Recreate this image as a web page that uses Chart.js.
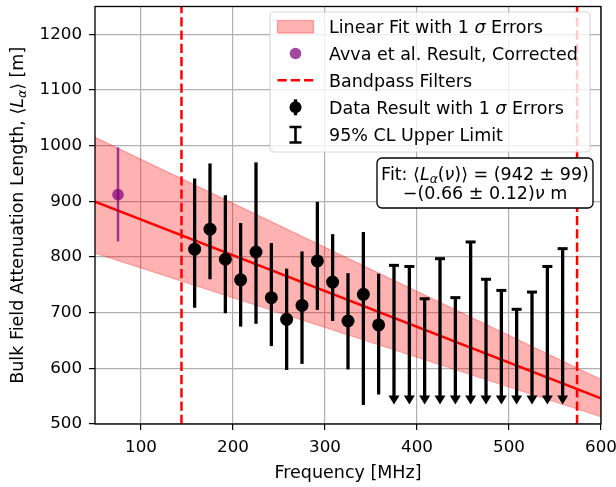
<!DOCTYPE html>
<html>
<head>
<meta charset="utf-8">
<script src="https://cdn.jsdelivr.net/npm/chart.js@4.4.1/dist/chart.umd.min.js"></script>
<style>
  html, body { margin: 0; padding: 0; background: #fff; }
</style>
</head>
<body>
<canvas id="attenChart" width="616" height="487"></canvas>
<script>
// --- data ---
const freqs   = [158.3, 175, 191.7, 208.3, 225, 241.7, 258.3, 275, 291.7, 308.3, 325, 341.7, 358.3];
const atten   = [814, 850, 796, 759, 809, 727, 688, 713, 793, 755, 685, 733, 678];
const errHigh = [941, 968, 911, 861, 970, 825, 779, 810, 899, 841, 771, 845, 770];
const errLow  = [709, 760, 699, 675, 680, 640, 597, 608, 705, 685, 598, 534, 553];

const limitFreqs  = [375, 391.7, 408.3, 425, 441.7, 458.3, 475, 491.7, 508.3, 525, 541.7, 558.3];
const limitValues = [785, 783, 725, 797, 727, 827, 760, 740, 706, 737, 783, 815];
const limitFloor  = 535;

const avvaFreq  = [75];
const avvaValue = [912];
const avvaLow   = [828];
const avvaHigh  = [997];

const fitFreq   = [50, 600];
const fitLine   = [899.5, 546];
const bandUpper = [1015, 580];
const bandLower = [807, 513];

const filterFreqs = [144, 574];

const xTicks = [100, 200, 300, 400, 500, 600];
const yTicks = [500, 600, 700, 800, 900, 1000, 1100, 1200];
const xRange = [50, 600];
const yRange = [500, 1250];

// --- style ---
const FONT = '"DejaVu Sans", sans-serif';
const FS = 17.5;      // labels, legend, annotation
const TFS = 16.7;     // tick labels
const purple = 'rgba(128, 0, 128, 0.72)';
const bandFill = 'rgba(255, 0, 0, 0.3)';

function pts(xs, ys) { return xs.map((x, i) => ({ x: x, y: ys[i] })); }

function segFont(s, size) {
    return (s.it ? 'italic ' : '') + (s.sub ? size * 0.7 : size) + 'px ' + FONT;
}
function richWidth(ctx, segs, size) {
    let w = 0;
    segs.forEach(s => { ctx.font = segFont(s, size); w += ctx.measureText(s.t).width; });
    return w;
}
function drawRich(ctx, segs, x, y, size) {
    ctx.textAlign = 'left';
    ctx.textBaseline = 'alphabetic';
    let cx = x;
    segs.forEach(s => {
        ctx.font = segFont(s, size);
        ctx.fillText(s.t, cx, y + (s.sub ? size * 0.22 : 0));
        cx += ctx.measureText(s.t).width;
    });
}
function roundRect(ctx, x, y, w, h, r) {
    ctx.beginPath();
    ctx.moveTo(x + r, y);
    ctx.arcTo(x + w, y, x + w, y + h, r);
    ctx.arcTo(x + w, y + h, x, y + h, r);
    ctx.arcTo(x, y + h, x, y, r);
    ctx.arcTo(x, y, x + w, y, r);
    ctx.closePath();
}

// error bars, upper limits, frame, legend, annotation
const extras = {
    id: 'extras',
    beforeDatasetDraw(chart, args) {
        const ctx = chart.ctx, xs = chart.scales.x, ys = chart.scales.y;
        ctx.save();
        if (args.index === 1) {
            ctx.strokeStyle = purple;
            ctx.lineWidth = 2.5;
            avvaFreq.forEach((f, i) => {
                const px = xs.getPixelForValue(f);
                ctx.beginPath();
                ctx.moveTo(px, ys.getPixelForValue(avvaLow[i]));
                ctx.lineTo(px, ys.getPixelForValue(avvaHigh[i]));
                ctx.stroke();
            });
        }
        if (args.index === 0) {
            ctx.strokeStyle = '#000';
            ctx.fillStyle = '#000';
            ctx.lineWidth = 3.3;
            freqs.forEach((f, i) => {
                const px = xs.getPixelForValue(f);
                ctx.beginPath();
                ctx.moveTo(px, ys.getPixelForValue(errLow[i]));
                ctx.lineTo(px, ys.getPixelForValue(errHigh[i]));
                ctx.stroke();
            });
            // 95% CL upper limits with arrows
            const tip = ys.getPixelForValue(limitFloor);
            limitFreqs.forEach((f, i) => {
                const px = xs.getPixelForValue(f);
                const top = ys.getPixelForValue(limitValues[i]);
                ctx.lineWidth = 3.3;
                ctx.beginPath();
                ctx.moveTo(px, top);
                ctx.lineTo(px, tip - 7);
                ctx.stroke();
                ctx.lineWidth = 3;
                ctx.beginPath();
                ctx.moveTo(px - 5, top);
                ctx.lineTo(px + 5, top);
                ctx.stroke();
                ctx.beginPath();
                ctx.moveTo(px - 5.5, tip - 9);
                ctx.lineTo(px + 5.5, tip - 9);
                ctx.lineTo(px, tip);
                ctx.closePath();
                ctx.fill();
            });
        }
        ctx.restore();
    },
    afterDraw(chart) {
        const ctx = chart.ctx, a = chart.chartArea;
        ctx.save();
        // frame
        ctx.strokeStyle = '#000';
        ctx.lineWidth = 1.33;
        ctx.strokeRect(a.left, a.top, a.right - a.left, a.bottom - a.top);

        ctx.fillStyle = '#000';
        // x title
        ctx.font = FS + 'px ' + FONT;
        ctx.textAlign = 'center';
        ctx.textBaseline = 'alphabetic';
        ctx.fillText('Frequency [MHz]', (a.left + a.right) / 2, 478);

        // y title
        const ySegs = [
            { t: 'Bulk Field Attenuation Length, \u27E8' },
            { t: 'L', it: true }, { t: '\u03B1', it: true, sub: true },
            { t: '\u27E9 [m]' }
        ];
        ctx.save();
        ctx.translate(22.5, (a.top + a.bottom) / 2);
        ctx.rotate(-Math.PI / 2);
        drawRich(ctx, ySegs, -richWidth(ctx, ySegs, FS) / 2, 0, FS);
        ctx.restore();

        // legend box
        ctx.fillStyle = 'rgba(255,255,255,0.8)';
        ctx.strokeStyle = 'rgba(204,204,204,0.8)';
        ctx.lineWidth = 1.2;
        roundRect(ctx, 270, 12, 320, 140, 4);
        ctx.fill();
        ctx.stroke();

        const hx = 295.5, tx = 329;
        const rows = [26.7, 53.5, 80.3, 107.3, 134.5];
        // patch
        ctx.fillStyle = bandFill;
        ctx.strokeStyle = bandFill;
        ctx.lineWidth = 1.3;
        ctx.fillRect(277.5, 20.5, 36, 12.5);
        ctx.strokeRect(277.5, 20.5, 36, 12.5);
        // purple marker
        ctx.fillStyle = purple;
        ctx.beginPath();
        ctx.arc(hx, rows[1], 5.8, 0, Math.PI * 2);
        ctx.fill();
        // dashed red
        ctx.strokeStyle = 'red';
        ctx.lineWidth = 2.5;
        ctx.setLineDash([9.25, 4]);
        ctx.beginPath();
        ctx.moveTo(277.5, rows[2]);
        ctx.lineTo(313.5, rows[2]);
        ctx.stroke();
        ctx.setLineDash([]);
        // data marker
        ctx.strokeStyle = '#000';
        ctx.fillStyle = '#000';
        ctx.lineWidth = 3.3;
        ctx.beginPath();
        ctx.moveTo(hx, rows[3] - 8);
        ctx.lineTo(hx, rows[3] + 8);
        ctx.stroke();
        ctx.beginPath();
        ctx.arc(hx, rows[3], 6, 0, Math.PI * 2);
        ctx.fill();
        // upper limit symbol
        ctx.lineWidth = 2.6;
        ctx.beginPath();
        ctx.moveTo(hx, rows[4] - 7.5);
        ctx.lineTo(hx, rows[4] + 8);
        ctx.moveTo(hx - 6, rows[4] - 7.5);
        ctx.lineTo(hx + 6, rows[4] - 7.5);
        ctx.moveTo(hx - 6, rows[4] + 8);
        ctx.lineTo(hx + 6, rows[4] + 8);
        ctx.stroke();

        ctx.fillStyle = '#000';
        const labels = [
            [{ t: 'Linear Fit with 1 ' }, { t: '\u03C3', it: true }, { t: ' Errors' }],
            [{ t: 'Avva et al. Result, Corrected' }],
            [{ t: 'Bandpass Filters' }],
            [{ t: 'Data Result with 1 ' }, { t: '\u03C3', it: true }, { t: ' Errors' }],
            [{ t: '95% CL Upper Limit' }]
        ];
        labels.forEach((segs, i) => drawRich(ctx, segs, tx, rows[i] + 6.3, FS));

        // fit annotation
        ctx.fillStyle = '#fff';
        ctx.strokeStyle = '#000';
        ctx.lineWidth = 1.33;
        roundRect(ctx, 377, 158, 216, 50, 5);
        ctx.fill();
        ctx.stroke();
        ctx.fillStyle = '#000';
        const fit1 = [
            { t: 'Fit: \u27E8' }, { t: 'L', it: true }, { t: '\u03B1', it: true, sub: true },
            { t: '(' }, { t: '\u03BD', it: true }, { t: ')\u27E9 = (942 \u00B1 99)' }
        ];
        const fit2 = [{ t: '\u2212(0.66 \u00B1 0.12)' }, { t: '\u03BD', it: true }, { t: ' m' }];
        const cx = 485;
        drawRich(ctx, fit1, cx - richWidth(ctx, fit1, FS) / 2, 179.5, FS);
        drawRich(ctx, fit2, cx - richWidth(ctx, fit2, FS) / 2, 199, FS);
        ctx.restore();
    }
};

const tickFont = { family: FONT, size: TFS };

new Chart(document.getElementById('attenChart'), {
    type: 'scatter',
    data: {
        datasets: [
            { label: 'Data Result', data: pts(freqs, atten), backgroundColor: '#000', borderWidth: 0, pointRadius: 6.5, order: 1 },
            { label: 'Avva et al.', data: pts(avvaFreq, avvaValue), backgroundColor: purple, borderWidth: 0, pointRadius: 5.8, order: 2 },
            { type: 'line', label: 'Filter low', data: pts([filterFreqs[0], filterFreqs[0]], yRange), borderColor: 'red', borderWidth: 2.5, borderDash: [9.25, 4], pointRadius: 0, order: 4 },
            { type: 'line', label: 'Filter high', data: pts([filterFreqs[1], filterFreqs[1]], yRange), borderColor: 'red', borderWidth: 2.5, borderDash: [9.25, 4], pointRadius: 0, order: 4 },
            { type: 'line', label: 'Fit', data: pts(fitFreq, fitLine), borderColor: 'red', borderWidth: 2.5, pointRadius: 0, order: 5 },
            { type: 'line', label: 'Band upper', data: pts(fitFreq, bandUpper), borderColor: bandFill, borderWidth: 1.2, backgroundColor: bandFill, fill: '+1', pointRadius: 0, order: 7 },
            { type: 'line', label: 'Band lower', data: pts(fitFreq, bandLower), borderColor: bandFill, borderWidth: 1.2, fill: false, pointRadius: 0, order: 8 }
        ]
    },
    options: {
        responsive: false,
        animation: false,
        events: [],
        devicePixelRatio: 1,
        layout: { padding: { top: 2.5, right: 15, left: 0, bottom: 0 } },
        plugins: { legend: { display: false }, tooltip: { enabled: false } },
        scales: {
            x: {
                type: 'linear', min: xRange[0], max: xRange[1],
                afterBuildTicks: s => { s.ticks = xTicks.map(v => ({ value: v })); },
                afterFit: s => { s.height = 63; s.paddingLeft = 0; s.paddingRight = 0; },
                ticks: { font: tickFont, color: '#000', padding: 8, maxRotation: 0, autoSkip: false, callback: v => String(v) },
                grid: { color: '#b0b0b0', lineWidth: 1.2, tickColor: '#000', tickLength: 6 },
                border: { display: false }
            },
            y: {
                type: 'linear', min: yRange[0], max: yRange[1],
                afterBuildTicks: s => { s.ticks = yTicks.map(v => ({ value: v })); },
                afterFit: s => { s.width = 95; s.paddingTop = 0; s.paddingBottom = 0; },
                ticks: { font: tickFont, color: '#000', padding: 7, autoSkip: false, callback: v => String(v) },
                grid: { color: '#b0b0b0', lineWidth: 1.2, tickColor: '#000', tickLength: 6 },
                border: { display: false }
            }
        }
    },
    plugins: [extras]
});
</script>
</body>
</html>
